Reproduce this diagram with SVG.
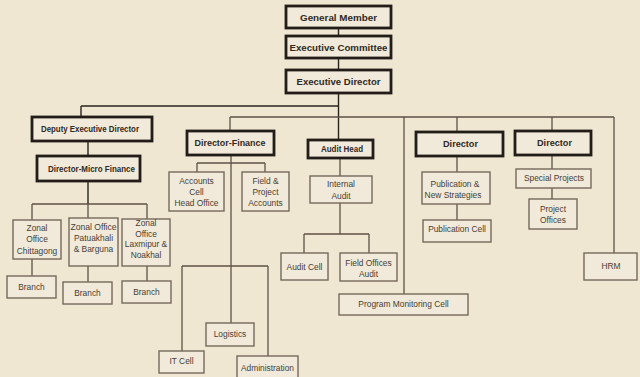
<svg xmlns="http://www.w3.org/2000/svg" width="640" height="377" viewBox="0 0 640 377">
<style>
.bg{fill:#efe7d2}
.tk{fill:#f1eada;stroke:#221d18;stroke-width:2.8}
.tn{fill:#f1eada;stroke:#75695a;stroke-width:1.4}
.ln{fill:none;stroke:#5d5245;stroke-width:1.3}
.lk{fill:none;stroke:#2a241e;stroke-width:1.4}
.b{font-family:"Liberation Sans",Arial,sans-serif;font-weight:bold;font-size:9px;fill:#2e2924;text-anchor:middle}
.r{font-family:"Liberation Sans",Arial,sans-serif;font-size:8.4px;fill:#463e35;text-anchor:middle}
</style>
<rect class="bg" x="0" y="0" width="640" height="377"/>
<g id="connectors">
<path class="lk" d="M338.5 28V36M338.5 58V70M338.5 93V140M81 106H338.5M81 106V117M88 141V156"/>
<path class="ln" d="M230 117H614M230 117V131M404 117V294M457 117V132M552 117V131M614 117V253"/>
<path class="lk" d="M88 181V204"/>
<path class="ln" d="M32 204H147M32 204V220M88 204V218M147 204V219M32 259V276M88 266V282M147 266V281"/>
<path class="ln" d="M231 155V323M197 163H265M197 163V172M265 163V172M182 266H268M182 266V351M268 266V356"/>
<path class="ln" d="M340 158V176M340 203V234M304 234H369M304 234V253M369 234V253"/>
<path class="ln" d="M457 156V172M457 204V220M552 155V169M552 188V199"/>
</g>
<g id="general-member"><rect class="tk" x="286" y="6" width="105" height="22"/><text class="b" x="338.5" y="20.5" textLength="77" lengthAdjust="spacingAndGlyphs">General Member</text></g>
<g id="executive-committee"><rect class="tk" x="286" y="36" width="105" height="22"/><text class="b" x="338.5" y="50.5" textLength="98" lengthAdjust="spacingAndGlyphs">Executive Committee</text></g>
<g id="executive-director"><rect class="tk" x="286" y="70" width="105" height="23"/><text class="b" x="338.5" y="85" textLength="84" lengthAdjust="spacingAndGlyphs">Executive Director</text></g>
<g id="deputy-executive-director"><rect class="tk" x="32" y="117" width="120" height="24"/><text class="b" x="90" y="132" textLength="98" lengthAdjust="spacingAndGlyphs">Deputy Executive Director</text></g>
<g id="director-micro-finance"><rect class="tk" x="37" y="156" width="103" height="25"/><text class="b" x="91.5" y="171.5" textLength="87" lengthAdjust="spacingAndGlyphs">Director-Micro Finance</text></g>
<g id="director-finance"><rect class="tk" x="187" y="131" width="87" height="24"/><text class="b" x="230" y="146" textLength="71" lengthAdjust="spacingAndGlyphs">Director-Finance</text></g>
<g id="audit-head"><rect class="tk" x="308" y="140" width="65" height="18"/><text class="b" x="342" y="152" textLength="42" lengthAdjust="spacingAndGlyphs">Audit Head</text></g>
<g id="director-1"><rect class="tk" x="416" y="132" width="87" height="24"/><text class="b" x="460.5" y="147" textLength="35" lengthAdjust="spacingAndGlyphs">Director</text></g>
<g id="director-2"><rect class="tk" x="515" y="131" width="76" height="24"/><text class="b" x="554.5" y="146" textLength="35" lengthAdjust="spacingAndGlyphs">Director</text></g>
<g id="accounts-cell"><rect class="tn" x="169" y="172" width="55" height="39"/><text class="r" x="196.5" y="183.5">Accounts</text><text class="r" x="196.5" y="194.5">Cell</text><text class="r" x="196.5" y="205.5">Head Office</text></g>
<g id="field-project-accounts"><rect class="tn" x="242" y="172" width="47" height="39"/><text class="r" x="265.5" y="183.5">Field &amp;</text><text class="r" x="265.5" y="194.5">Project</text><text class="r" x="265.5" y="205.5">Accounts</text></g>
<g id="zonal-chittagong"><rect class="tn" x="13" y="220" width="48" height="39"/><text class="r" x="37" y="231">Zonal</text><text class="r" x="37" y="242">Office</text><text class="r" x="37" y="254">Chittagong</text></g>
<g id="zonal-patuakhali"><rect class="tn" x="69" y="218" width="49" height="48"/><text class="r" x="93.5" y="230" textLength="46" lengthAdjust="spacingAndGlyphs">Zonal Office</text><text class="r" x="93.5" y="240.5">Patuakhali</text><text class="r" x="93.5" y="251.5">&amp; Barguna</text></g>
<g id="zonal-laxmipur"><rect class="tn" x="122" y="219" width="48" height="47"/><text class="r" x="146" y="226">Zonal</text><text class="r" x="146" y="236.5">Office</text><text class="r" x="146" y="247">Laxmipur &amp;</text><text class="r" x="146" y="258">Noakhal</text></g>
<g id="branch-1"><rect class="tn" x="7" y="276" width="49" height="22"/><text class="r" x="31.5" y="290">Branch</text></g>
<g id="branch-2"><rect class="tn" x="63" y="282" width="49" height="22"/><text class="r" x="87.5" y="296">Branch</text></g>
<g id="branch-3"><rect class="tn" x="122" y="281" width="49" height="22"/><text class="r" x="146.5" y="295">Branch</text></g>
<g id="internal-audit"><rect class="tn" x="310" y="176" width="62" height="27"/><text class="r" x="341" y="187">Internal</text><text class="r" x="341" y="199">Audit</text></g>
<g id="audit-cell"><rect class="tn" x="281" y="253" width="47" height="27"/><text class="r" x="304.5" y="269.5">Audit Cell</text></g>
<g id="field-offices-audit"><rect class="tn" x="340" y="253" width="57" height="28"/><text class="r" x="368.5" y="265.5">Field Offices</text><text class="r" x="368.5" y="277">Audit</text></g>
<g id="program-monitoring-cell"><rect class="tn" x="339" y="294" width="129" height="21"/><text class="r" x="403.5" y="307">Program Monitoring Cell</text></g>
<g id="publication-new-strategies"><rect class="tn" x="422" y="172" width="68" height="32"/><text class="r" x="455" y="187">Publication &amp;</text><text class="r" x="453" y="198">New Strategies</text></g>
<g id="publication-cell"><rect class="tn" x="423" y="220" width="68" height="22"/><text class="r" x="457" y="232">Publication Cell</text></g>
<g id="special-projects"><rect class="tn" x="516" y="169" width="75" height="19"/><text class="r" x="554" y="181">Special Projects</text></g>
<g id="project-offices"><rect class="tn" x="529" y="199" width="48" height="30"/><text class="r" x="553" y="212">Project</text><text class="r" x="553" y="223">Offices</text></g>
<g id="hrm"><rect class="tn" x="584" y="253" width="53" height="27"/><text class="r" x="611" y="269">HRM</text></g>
<g id="logistics"><rect class="tn" x="206" y="323" width="48" height="23"/><text class="r" x="230" y="337">Logistics</text></g>
<g id="it-cell"><rect class="tn" x="159" y="351" width="45" height="22"/><text class="r" x="181.5" y="364">IT Cell</text></g>
<g id="administration"><rect class="tn" x="237" y="356" width="61" height="23"/><text class="r" x="267.5" y="370.5">Administration</text></g>
</svg>
